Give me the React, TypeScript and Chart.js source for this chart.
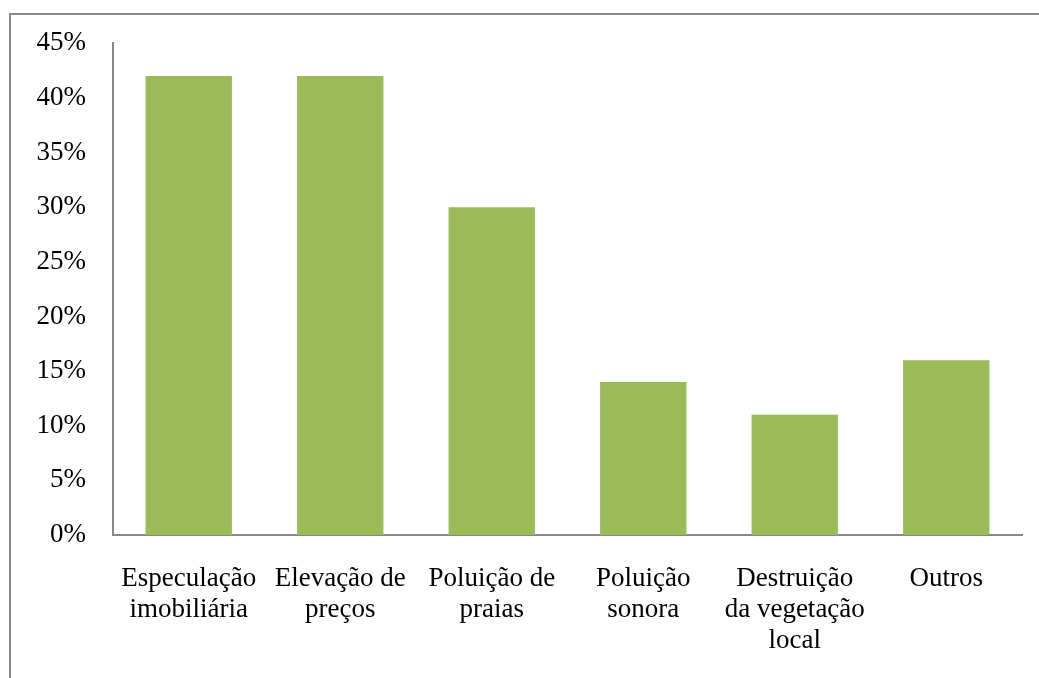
import React, { useEffect, useRef } from "react";
import { Chart, registerables } from "chart.js";

Chart.register(...registerables);

const categories: string[][] = [
  ["Especulação", "imobiliária"],
  ["Elevação de", "preços"],
  ["Poluição de", "praias"],
  ["Poluição", "sonora"],
  ["Destruição", "da vegetação", "local"],
  ["Outros"],
];
const values: number[] = [42, 42, 30, 14, 11, 16];
const yMin = 0;
const yMax = 45;
const yStep = 5;

const FONT = '"Liberation Serif", "Times New Roman", serif';

const framePlugin = {
  id: "frame",
  afterDraw(chart: any) {
    const ctx = chart.ctx;
    ctx.save();
    ctx.strokeStyle = "#898989";
    ctx.lineWidth = 2;
    ctx.beginPath();
    ctx.moveTo(10, 678);
    ctx.lineTo(10, 14);
    ctx.lineTo(1039, 14);
    ctx.stroke();
    ctx.restore();
  },
};

export default function App() {
  const ref = useRef<HTMLCanvasElement | null>(null);
  useEffect(() => {
    if (!ref.current) return;
    const chart = new Chart(ref.current, {
      type: "bar",
      data: {
        labels: categories,
        datasets: [
          {
            data: values,
            backgroundColor: "#9BBB59",
            borderWidth: 0,
            categoryPercentage: 1,
            barPercentage: 0.57,
          },
        ],
      },
      options: {
        responsive: false,
        animation: false,
        layout: { padding: { top: 43, right: 17, left: 0, bottom: 0 } },
        plugins: { legend: { display: false }, tooltip: { enabled: false } },
        scales: {
          x: {
            grid: { display: false, drawTicks: false },
            border: { display: true, color: "#878787", width: 2 },
            ticks: {
              color: "#000",
              font: { family: FONT, size: 27, lineHeight: 1.15 },
              padding: 28,
              maxRotation: 0,
              minRotation: 0,
              autoSkip: false,
            },
            afterFit: (s: any) => {
              s.height = 143;
            },
          },
          y: {
            min: yMin,
            max: yMax,
            grid: { display: false, drawTicks: false },
            border: { display: true, color: "#878787", width: 2 },
            ticks: {
              stepSize: yStep,
              color: "#000",
              font: { family: FONT, size: 27 },
              padding: 27,
              callback: (v: any) => v + "%",
            },
            afterFit: (s: any) => {
              s.width = 113;
            },
          },
        },
      },
      plugins: [framePlugin],
    });
    return () => chart.destroy();
  }, []);
  return (
    <div style={{ position: "absolute", left: 0, top: 0, width: 1039, height: 678, background: "#fff" }}>
      <canvas ref={ref} width={1039} height={678} style={{ width: 1039, height: 678 }} />
    </div>
  );
}
